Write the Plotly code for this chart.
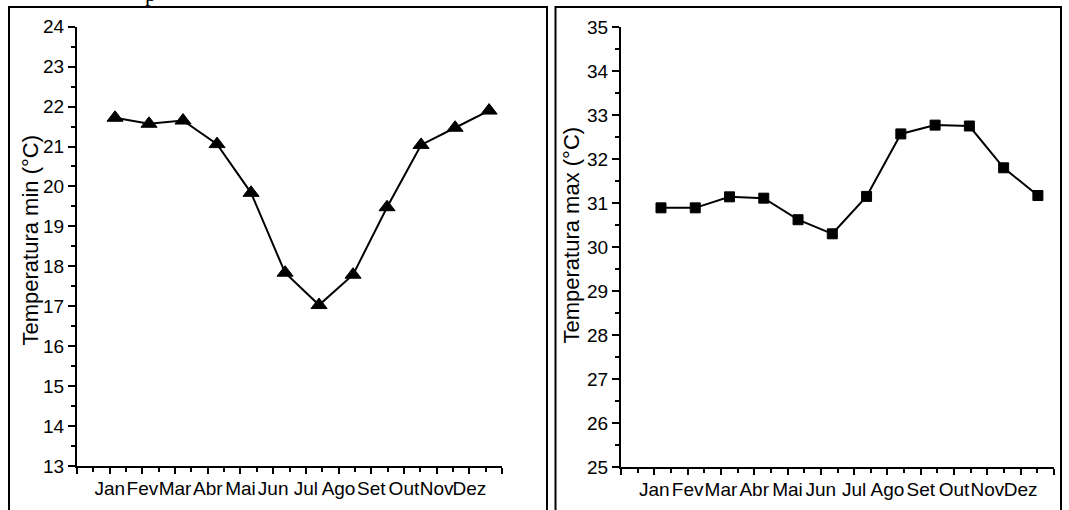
import plotly.graph_objects as go

months = ["Jan", "Fev", "Mar", "Abr", "Mai", "Jun", "Jul", "Ago", "Set", "Out", "Nov", "Dez"]
tmin = [21.72, 21.57, 21.65, 21.06, 19.84, 17.84, 17.03, 17.79, 19.48, 21.04, 21.47, 21.9]
tmax = [30.89, 30.89, 31.14, 31.11, 30.62, 30.30, 31.15, 32.57, 32.77, 32.75, 31.80, 31.17]
ytitle_min = "Temperatura min (°C)"
ytitle_max = "Temperatura max (°C)"
yrange_min = [13, 24]
yrange_max = [25, 35]

W, H = 1069, 510
FONT = "Arial, 'Liberation Sans', sans-serif"

def px_x(p):
    return p / W

def px_y(p):
    return 1 - p / H

major_x = list(range(0, 14))
major_txt = [""] + months + [""]
minor_x = [i + 0.5 for i in range(13)]

fig = go.Figure()
# helper traces (draw nothing) so the visible tick axes exist
fig.add_trace(go.Scatter(x=[major_x[0], major_x[-1]], y=[yrange_min[0]] * 2, mode="none",
                         xaxis="x", yaxis="y", showlegend=False, hoverinfo="skip"))
fig.add_trace(go.Scatter(x=[major_x[0], major_x[-1]], y=[yrange_max[0]] * 2, mode="none",
                         xaxis="x2", yaxis="y2", showlegend=False, hoverinfo="skip"))
fig.add_trace(go.Scatter(
    x=months, y=tmin, xaxis="x3", yaxis="y", mode="lines+markers",
    line=dict(color="black", width=2),
    marker=dict(symbol="triangle-up", size=14, color="black", line=dict(color="black", width=1)),
    showlegend=False, hoverinfo="skip"))
fig.add_trace(go.Scatter(
    x=months, y=tmax, xaxis="x4", yaxis="y2", mode="lines+markers",
    line=dict(color="black", width=2),
    marker=dict(symbol="square", size=10, color="black", line=dict(color="black", width=1)),
    showlegend=False, hoverinfo="skip"))

def xaxis_vis(d0, d1, anchor):
    return dict(
        domain=[px_x(d0), px_x(d1)], anchor=anchor, range=[0, 13],
        tickmode="array", tickvals=major_x, ticktext=major_txt, tickangle=0,
        showline=True, linecolor="black", linewidth=2, mirror=False,
        ticks="outside", ticklen=6, tickwidth=2, tickcolor="black",
        showgrid=False, zeroline=False, automargin=False,
        tickfont=dict(family=FONT, size=19, color="black"),
        ticklabelstandoff=-2,
        minor=dict(tickmode="array", tickvals=minor_x, ticks="outside",
                   ticklen=4, tickwidth=1.5, tickcolor="black", showgrid=False),
    )

def yaxis_vis(rng, d0, d1, anchor):
    return dict(
        domain=[px_y(d1), px_y(d0)], anchor=anchor, range=rng,
        tickmode="linear", tick0=rng[0], dtick=1,
        showline=True, linecolor="black", linewidth=2, mirror=False,
        ticks="outside", ticklen=7, tickwidth=2, tickcolor="black",
        showgrid=False, zeroline=False, automargin=False,
        tickfont=dict(family=FONT, size=19, color="black"),
        ticklabelstandoff=0,
        minor=dict(dtick=0.5, ticks="outside", ticklen=4, tickwidth=1.5,
                   tickcolor="black", showgrid=False),
    )

fig.update_layout(
    width=W, height=H, autosize=False,
    margin=dict(l=0, r=0, t=0, b=0, pad=0),
    paper_bgcolor="white", plot_bgcolor="white",
    xaxis=xaxis_vis(77, 502, "y"),
    yaxis=yaxis_vis(yrange_min, 26.7, 466, "x"),
    xaxis2=xaxis_vis(621, 1054, "y2"),
    yaxis2=yaxis_vis(yrange_max, 27, 467, "x2"),
    xaxis3=dict(domain=[px_x(77), px_x(502)], anchor="y", overlaying="x",
                type="category", range=[-1.118, 11.38], visible=False),
    xaxis4=dict(domain=[px_x(621), px_x(1054)], anchor="y2", overlaying="x2",
                type="category", range=[-1.167, 11.47], visible=False),
)

# panel borders
border = dict(color="black", width=2)
fig.add_shape(type="rect", xref="paper", yref="paper",
              x0=px_x(9), x1=px_x(547), y0=-0.1, y1=px_y(7), line=border, layer="above")
fig.add_shape(type="rect", xref="paper", yref="paper",
              x0=px_x(555.5), x1=px_x(1061), y0=-0.1, y1=px_y(7), line=border, layer="above")

# axis titles
fig.add_annotation(text=ytitle_min, textangle=-90, xref="paper", yref="paper",
                   x=px_x(29.5), y=px_y(240), xanchor="center", yanchor="middle",
                   showarrow=False, font=dict(family=FONT, size=22, color="black"))
fig.add_annotation(text=ytitle_max, textangle=-90, xref="paper", yref="paper",
                   x=px_x(571.5), y=px_y(235), xanchor="center", yanchor="middle",
                   showarrow=False, font=dict(family=FONT, size=22, color="black"))

# clipped fragment of text from above the figure
fig.add_annotation(text="p", xref="paper", yref="paper", x=px_x(150), y=px_y(8),
                   xanchor="center", yanchor="bottom", showarrow=False,
                   font=dict(family="'Liberation Serif', 'Times New Roman', serif", size=22, color="black"))

fig.write_html("out.html", config={"responsive": False, "displayModeBar": False},
               post_script="document.body.style.margin='0';document.body.style.overflow='hidden';")
